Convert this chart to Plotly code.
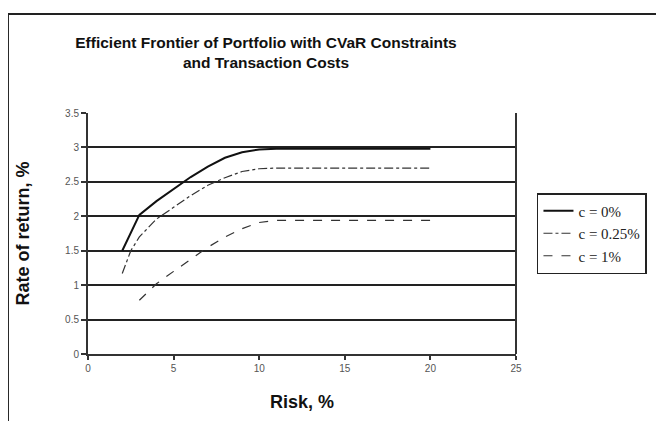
import plotly.graph_objects as go

# Risk (%) vs rate of return (%) for three transaction-cost levels
risk_c0 = [2, 3, 4, 5, 6, 7, 8, 9, 10, 11, 20]
ret_c0 = [1.5, 2.02, 2.22, 2.4, 2.57, 2.72, 2.85, 2.93, 2.97, 2.98, 2.98]

risk_c025 = [2, 2.5, 3, 4, 5, 6, 7, 8, 9, 10, 11, 20]
ret_c025 = [1.17, 1.5, 1.7, 1.96, 2.13, 2.3, 2.45, 2.56, 2.65, 2.69, 2.7, 2.7]

risk_c1 = [3, 4, 5, 6, 7, 8, 9, 10, 11, 20]
ret_c1 = [0.78, 1.02, 1.2, 1.38, 1.55, 1.7, 1.82, 1.91, 1.94, 1.94]

names = ["c = 0%", "c = 0.25%", "c = 1%"]

SANS = "Arial, Liberation Sans, sans-serif"

fig = go.Figure()
fig.add_trace(go.Scatter(x=risk_c0, y=ret_c0, mode="lines", name=names[0],
                         line=dict(color="#111111", width=2)))
fig.add_trace(go.Scatter(x=risk_c025, y=ret_c025, mode="lines", name=names[1],
                         line=dict(color="#333333", width=1.2, dash="dashdot")))
fig.add_trace(go.Scatter(x=risk_c1, y=ret_c1, mode="lines", name=names[2],
                         line=dict(color="#333333", width=1.2, dash="dash")))

# outer chart frame (extends past right/bottom edge like the source)
fig.add_shape(type="rect", xref="paper", yref="paper",
              x0=-0.187, x1=1.6, y0=-0.6, y1=1.411,
              line=dict(color="#222222", width=2), layer="below")
# right border of the plot area
fig.add_shape(type="line", xref="paper", yref="paper",
              x0=1, x1=1, y0=0, y1=1, line=dict(color="#333333", width=2))

# axis titles placed as annotations for exact positioning
fig.add_annotation(text="<b>Rate of return, %</b>", xref="paper", yref="paper",
                   x=-0.154, y=0.5, xanchor="center", yanchor="middle",
                   textangle=-90, showarrow=False,
                   font=dict(family=SANS, size=18, color="#111111"))
fig.add_annotation(text="<b>Risk, %</b>", xref="paper", yref="paper",
                   x=0.5, y=-0.199, xanchor="center", yanchor="middle", showarrow=False,
                   font=dict(family=SANS, size=18, color="#111111"))

tick_font = dict(family=SANS, size=10, color="#555555")

# page body adds an 8px offset, so margins are trimmed by 8px on left/top
fig.update_layout(
    width=664, height=421,
    margin=dict(l=80, r=156, t=105, b=75),
    paper_bgcolor="white", plot_bgcolor="white",
    title=dict(text="<b>Efficient Frontier of Portfolio with CVaR Constraints<br>and Transaction Costs</b>",
               x=258 / 664, xanchor="center", y=1 - 40 / 421, yanchor="middle",
               font=dict(family=SANS, size=15.5, color="#111111")),
    xaxis=dict(range=[0, 25], tickvals=[0, 5, 10, 15, 20, 25], showgrid=False,
               showline=True, linecolor="#333333", linewidth=2,
               ticks="outside", ticklen=4, tickcolor="#333333", tickwidth=1.5,
               tickfont=tick_font, zeroline=False, automargin=False),
    yaxis=dict(range=[0, 3.5], dtick=0.5, showgrid=True, gridcolor="#222222", gridwidth=1.5,
               showline=True, linecolor="#333333", linewidth=2,
               ticks="outside", ticklen=5, tickcolor="#333333", tickwidth=1.5,
               tickfont=tick_font, zeroline=False, automargin=False),
    legend=dict(x=1.049, y=0.668, xanchor="left", yanchor="top",
                bordercolor="#222222", borderwidth=1.5, bgcolor="white",
                font=dict(family="Liberation Serif, Times New Roman, serif", size=15, color="#222222"),
                tracegroupgap=0, itemwidth=30),
    showlegend=True,
)

fig.write_html("out.html")
